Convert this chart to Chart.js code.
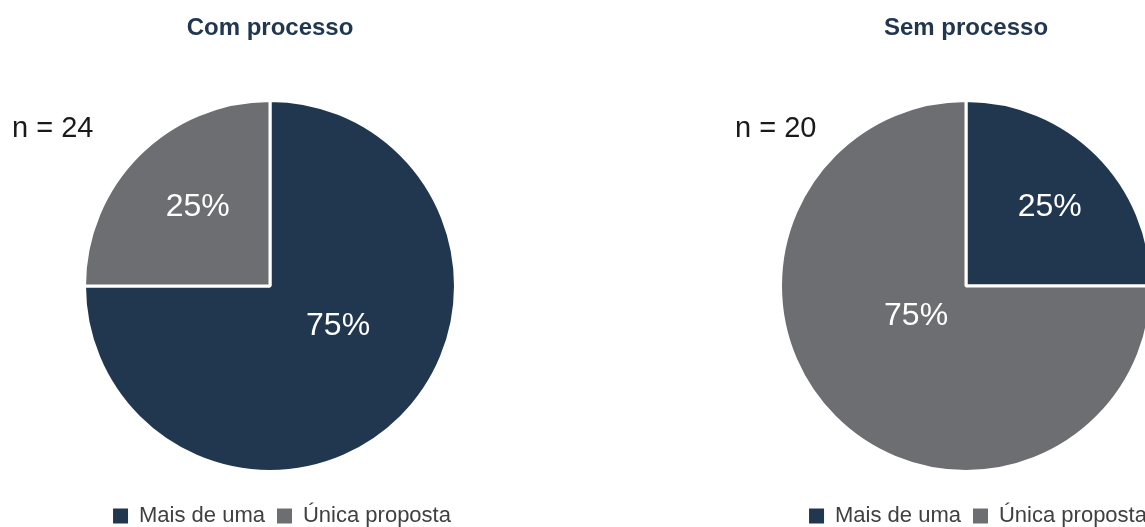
<!DOCTYPE html>
<html>
<head>
<meta charset="utf-8">
<script src="https://cdn.jsdelivr.net/npm/chart.js@4/dist/chart.umd.min.js"></script>
<style>
  html, body { margin: 0; padding: 0; background: #fff; overflow: hidden; width: 1145px; height: 527px; }
  .box { position: absolute; top: 0; width: 540px; height: 537px; }
  #boxLeft { left: 0; }
  #boxRight { left: 696px; }
</style>
</head>
<body>
<div class="box" id="boxLeft"><canvas id="pieCom"></canvas></div>
<div class="box" id="boxRight"><canvas id="pieSem"></canvas></div>
<script>
// ---categories
var categories = [ 'Mais de uma', 'Única proposta' ]

// ---counts per group
var comProcesso = [ 18, 6 ]
var semProcesso = [ 5, 15 ]

// ---titles
var titles = [ 'Com processo', 'Sem processo' ]

var navy = '#213750';
var gray = '#6d6e72';
var font = "'Liberation Sans', Arial, sans-serif";

function total(arr) {
  return arr.reduce(function (a, b) { return a + b; }, 0);
}

// writes the percentage inside each slice and the "n = .." tag
var pieText = {
  id: 'pieText',
  afterDatasetsDraw: function (chart, args, opts) {
    var ctx = chart.ctx;
    var meta = chart.getDatasetMeta(0);
    var values = chart.data.datasets[0].data;
    var sum = total(values);
    ctx.save();
    ctx.fillStyle = '#ffffff';
    ctx.font = '32px ' + font;
    ctx.textAlign = 'center';
    ctx.textBaseline = 'middle';
    meta.data.forEach(function (arc, i) {
      var p = Math.round(values[i] / sum * 100) + '%';
      var off = opts.offsets[i];
      ctx.fillText(p, arc.x + off[0] * arc.outerRadius, arc.y + off[1] * arc.outerRadius);
    });
    ctx.fillStyle = '#1a1a1a';
    ctx.font = '29px ' + font;
    ctx.textAlign = 'left';
    ctx.fillText('n = ' + sum, opts.nX, opts.nY);
    ctx.restore();
  }
};

// nudges the legend a little to the right of the pie centre
var legendShift = {
  id: 'legendShift',
  afterLayout: function (chart, args, opts) {
    if (chart.legend) {
      chart.legend.left += opts.dx;
      chart.legend.right += opts.dx;
    }
  }
};

// plain filled squares, without the slice border
function squareLabels(chart) {
  var items = Chart.controllers.pie.overrides.plugins.legend.labels.generateLabels(chart);
  items.forEach(function (it) {
    it.lineWidth = 0;
    it.strokeStyle = it.fillStyle;
  });
  return items;
}

function makePie(canvasId, title, values, textOpts) {
  return new Chart(document.getElementById(canvasId), {
    type: 'pie',
    plugins: [pieText, legendShift],
    data: {
      labels: categories,
      datasets: [{
        data: values,
        backgroundColor: [navy, gray],
        borderColor: '#ffffff',
        borderWidth: 3
      }]
    },
    options: {
      responsive: true,
      maintainAspectRatio: false,
      animation: false,
      radius: 185.5,
      layout: { padding: 0 },
      plugins: {
        title: {
          display: true,
          text: title,
          color: navy,
          font: { family: font, size: 24, weight: 'bold' },
          padding: { top: 14, bottom: 36 }
        },
        legend: {
          display: true,
          position: 'bottom',
          labels: {
            color: '#404040',
            font: { family: font, size: 22 },
            boxWidth: 15,
            boxHeight: 15,
            padding: 12,
            generateLabels: squareLabels
          }
        },
        tooltip: { enabled: false },
        pieText: textOpts,
        legendShift: { dx: 12 }
      }
    }
  });
}

makePie('pieCom', titles[0], comProcesso, {
  offsets: [ [0.367, 0.217], [-0.39, -0.424] ],
  nX: 12, nY: 129
});

makePie('pieSem', titles[1], semProcesso, {
  offsets: [ [0.451, -0.424], [-0.269, 0.163] ],
  nX: 39, nY: 129
});
</script>
</body>
</html>
